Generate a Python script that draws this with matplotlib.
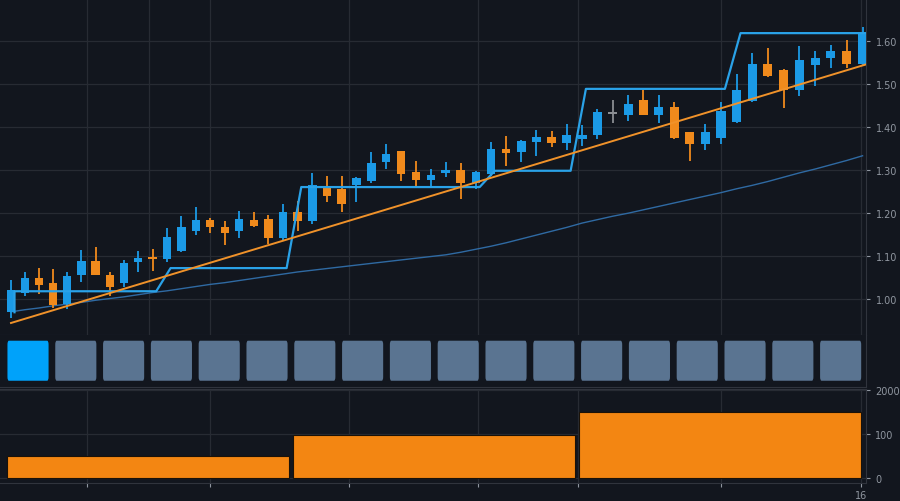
import numpy as np
import matplotlib
matplotlib.use("Agg")
import matplotlib.pyplot as plt
from matplotlib.patches import FancyBboxPatch

# candle data
opens = [0.968, 1.013, 1.047, 1.036, 0.987, 1.055, 1.088, 1.055, 1.036, 1.086,
         1.094, 1.093, 1.110, 1.158, 1.184, 1.166, 1.157, 1.184, 1.186, 1.142,
         1.201, 1.182, 1.263, 1.256, 1.265, 1.274, 1.318, 1.343, 1.295, 1.277,
         1.293, 1.300, 1.270, 1.291, 1.349, 1.341, 1.366, 1.376, 1.362, 1.372,
         1.382, 1.433, 1.428, 1.462, 1.428, 1.446, 1.388, 1.361, 1.374, 1.411,
         1.460, 1.547, 1.533, 1.487, 1.545, 1.560, 1.578, 1.547]
highs = [1.044, 1.062, 1.071, 1.068, 1.062, 1.113, 1.120, 1.062, 1.089, 1.110,
         1.116, 1.164, 1.192, 1.213, 1.187, 1.180, 1.205, 1.203, 1.195, 1.221,
         1.228, 1.293, 1.285, 1.285, 1.284, 1.341, 1.361, 1.345, 1.320, 1.301,
         1.318, 1.316, 1.297, 1.364, 1.380, 1.369, 1.393, 1.390, 1.407, 1.405,
         1.442, 1.462, 1.475, 1.487, 1.475, 1.458, 1.389, 1.407, 1.458, 1.524,
         1.573, 1.584, 1.535, 1.588, 1.577, 1.592, 1.603, 1.634]
lows = [0.955, 1.007, 1.011, 0.978, 0.976, 1.038, 1.054, 1.006, 1.027, 1.062,
        1.065, 1.085, 1.108, 1.148, 1.153, 1.126, 1.141, 1.168, 1.128, 1.135,
        1.158, 1.174, 1.225, 1.201, 1.225, 1.270, 1.302, 1.273, 1.262, 1.257,
        1.283, 1.232, 1.256, 1.285, 1.310, 1.318, 1.333, 1.353, 1.347, 1.355,
        1.371, 1.410, 1.413, 1.427, 1.410, 1.372, 1.320, 1.347, 1.361, 1.409,
        1.458, 1.516, 1.444, 1.472, 1.495, 1.538, 1.537, 1.545]
closes = [1.020, 1.047, 1.032, 0.985, 1.052, 1.088, 1.055, 1.027, 1.083, 1.094,
          1.090, 1.143, 1.166, 1.183, 1.166, 1.153, 1.186, 1.170, 1.141, 1.202,
          1.182, 1.265, 1.240, 1.221, 1.282, 1.316, 1.337, 1.291, 1.277, 1.288,
          1.300, 1.270, 1.295, 1.349, 1.340, 1.367, 1.376, 1.362, 1.382, 1.382,
          1.435, 1.433, 1.454, 1.428, 1.446, 1.375, 1.361, 1.388, 1.438, 1.487,
          1.546, 1.518, 1.487, 1.557, 1.560, 1.577, 1.547, 1.619]

# slow moving average
slow_ma = [0.969, 0.974, 0.978, 0.983, 0.987, 0.991, 0.996, 1.000, 1.004, 1.009,
           1.014, 1.018, 1.023, 1.028, 1.033, 1.037, 1.042, 1.047, 1.052, 1.057,
           1.062, 1.066, 1.070, 1.074, 1.078, 1.082, 1.086, 1.090, 1.094, 1.098,
           1.102, 1.108, 1.115, 1.122, 1.130, 1.139, 1.148, 1.157, 1.166, 1.176,
           1.184, 1.192, 1.199, 1.207, 1.215, 1.223, 1.231, 1.239, 1.247, 1.256,
           1.264, 1.273, 1.283, 1.293, 1.302, 1.312, 1.322, 1.333]

# upper channel (step line)
band_start = 0.968
upper_band = [1.017] * 11 + [1.071] * 9 + [1.260] * 13 + [1.298] * 6 + [1.489] * 10 + [1.619] * 9

# trend line end values
trend_start = 0.943
trend_end = 1.546

# signal squares / bottom bars
n_squares = 18
active_square = 0
bar_values = [50, 98, 150]

price_ticks = [1.00, 1.10, 1.20, 1.30, 1.40, 1.50, 1.60]
vol_ticks = [0, 100, 200]
vol_labels = ["0", "100", "2000"]

# colours
bg = "#12161e"
grid_c = "#272b33"
spine_c = "#30343d"
text_c = "#9096a0"
up_c = "#1b9ae6"
down_c = "#f08a1c"
flat_c = "#8a8d92"

# the time axis of the source is slightly stretched towards the right
SA, SB = 14.0, 0.0165


def fwd(v):
    v = np.asarray(v, dtype=float)
    return SA * v + SB * v * v


def inv(p):
    p = np.asarray(p, dtype=float)
    return (-SA + np.sqrt(np.maximum(SA * SA + 4 * SB * p, 0))) / (2 * SB)


fig = plt.figure(figsize=(9, 5.02), dpi=100, facecolor=bg)
ax = fig.add_axes([0, 0.3307, 0.9622, 0.6693], facecolor=bg)
ax_sq = fig.add_axes([0, 0.2271, 0.9622, 0.1036], facecolor=bg)
ax_v = fig.add_axes([0, 0.0359, 0.9622, 0.1873], facecolor=bg)

# vertical grid positions as fraction of axes width
grid_frac = [0.1005, 0.172, 0.2425, 0.403, 0.552, 0.6674, 0.8326, 0.9942]
grid_frac_low = [0.1005, 0.2425, 0.403, 0.552, 0.6674, 0.8326, 0.9942]

# ---- main candle panel
ax.set_xscale("function", functions=(fwd, inv))
x = np.arange(len(opens))
o = np.array(opens)
c = np.array(closes)
cols = [up_c if cc > oo else (down_c if cc < oo else flat_c) for oo, cc in zip(o, c)]
ax.vlines(x, lows, highs, colors=cols, linewidth=1.3, zorder=3)
body_lo = np.minimum(o, c)
body_h = np.maximum(np.abs(c - o), 0.005)
body_lo = np.where(np.abs(c - o) < 0.005, o - 0.0025, body_lo)
ax.bar(x, body_h, bottom=body_lo, width=0.58, color=cols, linewidth=0, zorder=4)

ax.plot(x, slow_ma, color="#2f6aa3", linewidth=1.0, zorder=2)
ax.plot(np.concatenate([[0.25], x + 0.25]), [band_start] + upper_band, color="#2aa2e8",
        linewidth=1.6, zorder=5)

xlo, xhi = float(inv(-11)), float(inv(855))
ax.plot([0, xhi], [trend_start, trend_end], color="#f0922a", linewidth=1.4, zorder=6)
ax.set_xlim(xlo, xhi)
ax.set_ylim(0.915, 1.6986)

plo, phi = float(fwd(xlo)), float(fwd(xhi))
ax.set_xticks([float(inv(plo + f * (phi - plo))) for f in grid_frac])
ax.set_xticklabels([])
ax.minorticks_off()
ax.tick_params(axis="x", length=0)
ax.yaxis.tick_right()
ax.set_yticks(price_ticks)
ax.set_yticklabels(["%.2f" % v for v in price_ticks])
ax.tick_params(axis="y", colors=text_c, labelsize=7, length=3, width=0.8, pad=4)
ax.grid(True, color=grid_c, linewidth=0.9)
for s in ax.spines.values():
    s.set_color(spine_c)
ax.spines["top"].set_visible(False)
ax.spines["left"].set_visible(False)
ax.spines["bottom"].set_color("#363a44")

# ---- squares panel
for i in range(n_squares):
    fc = "#00a2fa" if i == active_square else "#5a7491"
    ax_sq.add_patch(FancyBboxPatch((i - 0.43, 0.12), 0.86, 0.77,
                                   boxstyle="round,pad=0.0,rounding_size=0.03",
                                   facecolor=fc, edgecolor="none",
                                   mutation_aspect=2.5))
ax_sq.set_xlim(-0.586, 17.53)
ax_sq.set_ylim(0, 1)
ax_sq.set_xticks([])
ax_sq.set_yticks([])
for s in ax_sq.spines.values():
    s.set_color(spine_c)
ax_sq.spines["left"].set_visible(False)
ax_sq.spines["top"].set_visible(False)

# ---- bottom bar panel
bx = np.arange(len(bar_values))
ax_v.bar(bx, bar_values, width=0.985, color="#f38612", edgecolor="#1a1208",
         linewidth=0.8, zorder=3)
vlo, vhi = -0.516, 2.509
ax_v.set_xlim(vlo, vhi)
ax_v.set_ylim(-11.4, 202.3)
ax_v.set_xticks([vlo + f * (vhi - vlo) for f in grid_frac_low])
ax_v.set_xticklabels([""] * (len(grid_frac_low) - 1) + ["16"])
ax_v.yaxis.tick_right()
ax_v.set_yticks(vol_ticks)
ax_v.set_yticklabels(vol_labels)
ax_v.tick_params(colors=text_c, labelsize=7, length=3, width=0.8)
ax_v.tick_params(axis="x", pad=2)
ax_v.grid(True, color=grid_c, linewidth=0.9)
ax_v.set_axisbelow(True)
for s in ax_v.spines.values():
    s.set_color(spine_c)
ax_v.spines["left"].set_visible(False)

fig.savefig("out.png", dpi=100, facecolor=bg)
